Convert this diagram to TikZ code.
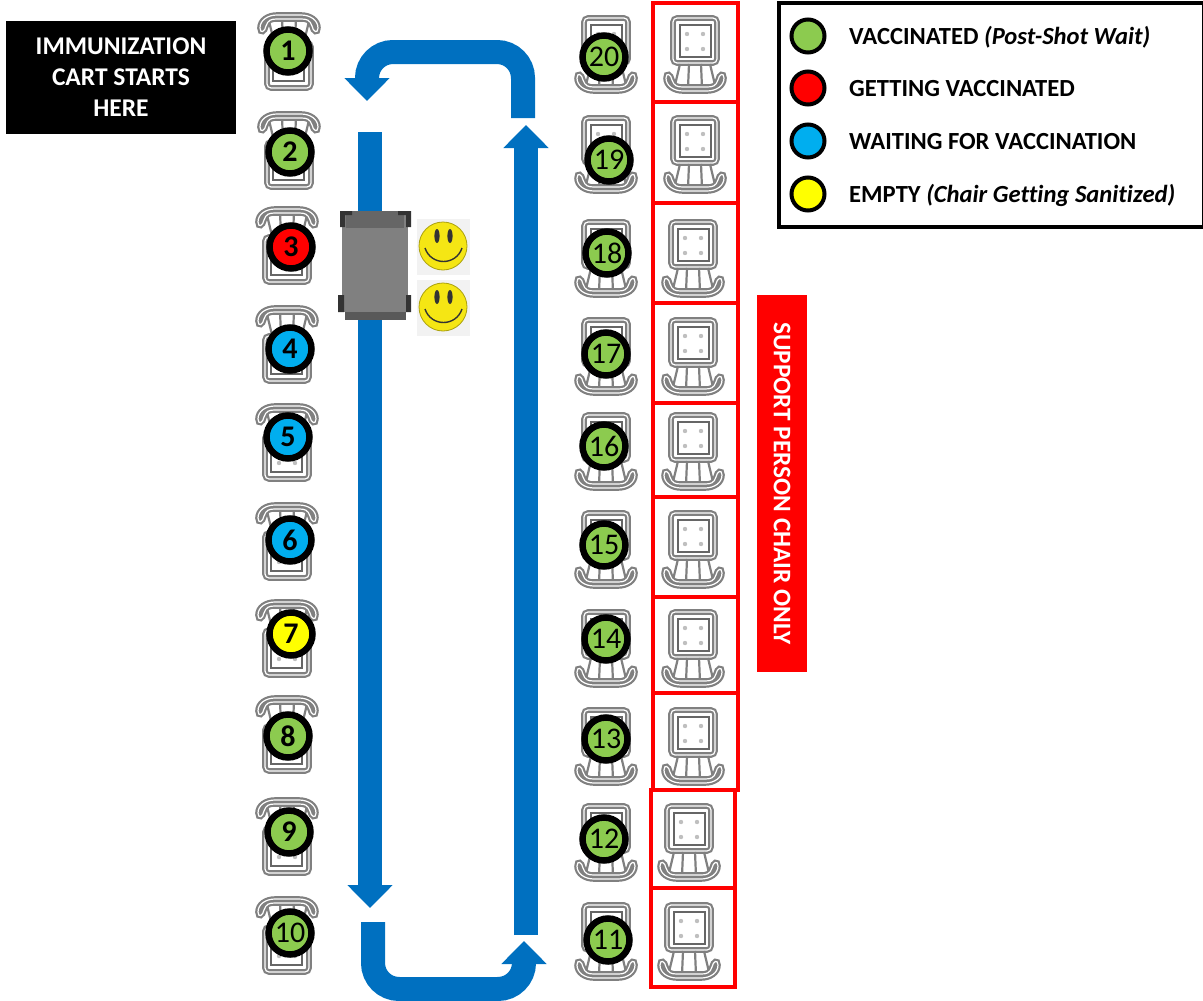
\documentclass[tikz,border=0pt]{standalone}
\usepackage{fontspec}
\setmainfont{Carlito}[Ligatures=NoCommon]
\usetikzlibrary{arrows.meta}

\definecolor{donegreen}{HTML}{8CCB4F}
\definecolor{shotred}{HTML}{FF0000}
\definecolor{waitblue}{HTML}{00AEEF}
\definecolor{emptyyellow}{HTML}{FFFF00}
\definecolor{routeblue}{HTML}{0070C0}
\definecolor{smileyellow}{HTML}{F5E614}

\tikzset{
  seatdot/.style={circle,draw=black,line width=6.5pt,minimum size=43pt,inner sep=0pt,
    text=black,font=\fontsize{30}{30}\selectfont},
  keydot/.style={circle,draw=black,line width=4pt,minimum size=33pt,inner sep=0pt},
  keytext/.style={anchor=west,inner sep=0pt,font=\fontsize{24.6}{28}\selectfont\bfseries,text=black},
  seatbox/.style={draw=red,line width=3.5pt},
  route/.style={routeblue,line width=24pt,rounded corners=26pt},
  routehead/.style={-{Triangle[width=44pt,length=23pt]}},
  chair/.pic={
    \draw[black!50,line width=2.2pt,double=white,double distance=1.2pt,rounded corners=4pt,fill=white]
      (-22,-37) rectangle (22,8);
    \draw[black!60,line width=2.4pt,fill=white] (-15,-30) rectangle (16,2);
    \fill[black!25] (-8,-21) circle (2.2) (8,-21) circle (2.2) (-8,-6) circle (2.2) (8,-6) circle (2.2);
    \draw[black!50,line width=2.2pt] (-15,9) -- (-20,30) (-6,9) -- (-7,33) (6,9) -- (7,33) (15,9) -- (20,30);
    \draw[black!50,line width=2.2pt,double=white,double distance=1.2pt,line cap=round]
      (-29,23) .. controls (-29,17) and (-24,19) .. (-23,25) .. controls (-21,31) and (-18,32) .. (-12,32)
      -- (12,32) .. controls (18,32) and (21,31) .. (23,25) .. controls (24,19) and (29,17) .. (29,23)
      .. controls (29,31) and (21,36) .. (12,36) -- (-12,36) .. controls (-21,36) and (-29,31) .. (-29,23);
  }
}

\begin{document}
\begin{tikzpicture}[x=1pt,y=-1pt]
\useasboundingbox (0,0) rectangle (1203,1001);

% Route of the cart
\draw[route,routehead] (523,118) -- (523,52) -- (367,52) -- (367,101);
\draw[route,routehead,rounded corners=0pt] (370,132) -- (370,908);
\draw[route,routehead,rounded corners=0pt] (526,935) -- (526,125);
\draw[route,routehead] (373,922) -- (373,989) -- (524,989) -- (524,941);

% Left row of chairs
\foreach \n/\cx/\cy/\x/\y/\col in {1/289/13/288/51/donegreen,2/289/112/290/152/donegreen,
    3/287/207/291/247/shotred,4/287/306/290/349/waitblue,5/287/404/288/437/waitblue,
    6/287/503/290/540/waitblue,7/287/600/291/634/emptyyellow,8/287/696/288/736/donegreen,
    9/287/798/289/832/donegreen,10/287/897/290/933/donegreen} {
  \pic[rotate=180] at (\cx,\cy+38) {chair};
  \node[seatdot,fill=\col] (seat\n) at (\x,\y) {\ifnum\n<10 \bfseries\fi\n};
}

% Right row of chairs
\foreach \n/\cy/\x/\y in {20/18/604/57,19/118/609/160,18/222/607/253,17/320/606/354,16/415/604/446,
    15/513/604/545,14/612/606/639,13/710/606/739,12/806/604/839,11/905/608/940} {
  \pic at (606,\cy+37) {chair};
  \node[seatdot,fill=donegreen] (seat\n) at (\x,\y) {\n};
}

% Support person chairs
\foreach \yy/\yb/\cx/\cy in {3/102/695/18,102/203/695/118,203/303/693/222,303/403/693/320,403/497/693/415,
    497/597/693/513,597/693/693/612,693/790/693/710} {
  \draw[seatbox] (653,\yy) rectangle (738,\yb);
  \pic at (\cx,\cy+37) {chair};
}
\foreach \yy/\yb/\cy in {790/888/806,888/987/905} {
  \draw[seatbox] (651,\yy) rectangle (735,\yb);
  \pic at (689,\cy+37) {chair};
}

% Cart
\fill[black!50] (342,214) rectangle (408,312);
\fill[black!60] (346,211) rectangle (404,228);
\fill[black!65] (345,312) rectangle (406,320);
\fill[black!80] (340,211) rectangle (345,227) (345,211) rectangle (352,215)
  (406,211) rectangle (411,227) (398,211) rectangle (406,215)
  (338,295) rectangle (344,312) (406,295) rectangle (411,312);

% Smiley faces
\foreach \s/\sy in {a/247,b/308} {
  \fill[black!5] (417,\sy-28) rectangle (470,\sy+28);
  \node[circle,draw=black!30!smileyellow,fill=smileyellow,line width=0.8pt,minimum size=48pt,inner sep=0pt]
    (smile\s) at (443,\sy-1) {};
  \fill[black!80] (437,\sy-11) ellipse (2.6 and 7) (450,\sy-11) ellipse (2.6 and 7);
  \draw[black!80,line width=1.4pt] (425,\sy+1) .. controls (431,\sy+19) and (456,\sy+19) .. (462,\sy+1);
}

% Start label
\node[fill=black,text=white,minimum width=230pt,minimum height=113pt,inner sep=0pt,align=center,
      font=\fontsize{25.5}{31}\selectfont\bfseries] (start) at (121,77.5)
  {IMMUNIZATION\\CART STARTS\\HERE};

% Support label
\node[fill=red,text=white,rotate=270,minimum width=377pt,minimum height=50pt,inner sep=0pt,
      font=\fontsize{25.3}{28}\selectfont\bfseries] (support) at (782,483.5)
  {SUPPORT PERSON CHAIR ONLY};

% Legend
\draw[black,line width=4pt,fill=white] (779,3) rectangle (1204,227);
\node[keydot,fill=donegreen] (keydone) at (808,36) {};
\node[keydot,fill=shotred] (keyshot) at (808,88) {};
\node[keydot,fill=waitblue] (keywait) at (808,141) {};
\node[keydot,fill=emptyyellow] (keyempty) at (808,194) {};
\node[keytext] (txtdone) at (849,37) {VACCINATED \textit{(Post-Shot Wait)}};
\node[keytext] (txtshot) at (849,89) {GETTING VACCINATED};
\node[keytext] (txtwait) at (849,142) {WAITING FOR VACCINATION};
\node[keytext] (txtempty) at (849,195) {EMPTY \textit{(Chair Getting Sanitized)}};

\end{tikzpicture}
\end{document}
